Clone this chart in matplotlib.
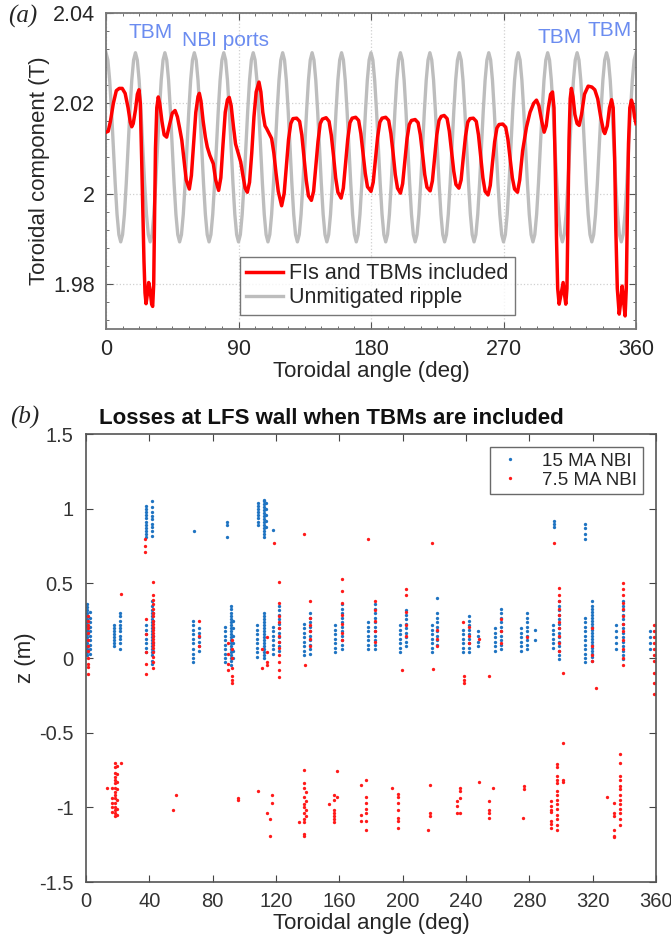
import numpy as np
import matplotlib
matplotlib.use("Agg")
import matplotlib.pyplot as plt
from matplotlib.ticker import MultipleLocator, FixedLocator

plt.rcParams['font.family'] = ['Liberation Sans', 'DejaVu Sans']

# ---- panel (a): toroidal field along the toroidal angle ----
# unmitigated ripple, sampled every 1.25 deg (18 coils -> one period per 20 deg)
ripple_deg = np.linspace(0, 360, 289)
ripple_b = [
    2.0312, 2.0296, 2.0251, 2.0183, 2.0103, 2.0022, 1.9954, 1.9909, 1.9893, 1.9909, 1.9954, 2.0022, 2.0103, 2.0183, 2.0251, 2.0296,
    2.0312, 2.0296, 2.0251, 2.0183, 2.0103, 2.0022, 1.9954, 1.9909, 1.9893, 1.9909, 1.9954, 2.0022, 2.0103, 2.0183, 2.0251, 2.0296,
    2.0312, 2.0296, 2.0251, 2.0183, 2.0103, 2.0022, 1.9954, 1.9909, 1.9893, 1.9909, 1.9954, 2.0022, 2.0103, 2.0183, 2.0251, 2.0296,
    2.0312, 2.0296, 2.0251, 2.0183, 2.0103, 2.0022, 1.9954, 1.9909, 1.9893, 1.9909, 1.9954, 2.0022, 2.0103, 2.0183, 2.0251, 2.0296,
    2.0312, 2.0296, 2.0251, 2.0183, 2.0103, 2.0022, 1.9954, 1.9909, 1.9893, 1.9909, 1.9954, 2.0022, 2.0103, 2.0183, 2.0251, 2.0296,
    2.0312, 2.0296, 2.0251, 2.0183, 2.0103, 2.0022, 1.9954, 1.9909, 1.9893, 1.9909, 1.9954, 2.0022, 2.0103, 2.0183, 2.0251, 2.0296,
    2.0312, 2.0296, 2.0251, 2.0183, 2.0103, 2.0022, 1.9954, 1.9909, 1.9893, 1.9909, 1.9954, 2.0022, 2.0103, 2.0183, 2.0251, 2.0296,
    2.0312, 2.0296, 2.0251, 2.0183, 2.0103, 2.0022, 1.9954, 1.9909, 1.9893, 1.9909, 1.9954, 2.0022, 2.0103, 2.0183, 2.0251, 2.0296,
    2.0312, 2.0296, 2.0251, 2.0183, 2.0103, 2.0022, 1.9954, 1.9909, 1.9893, 1.9909, 1.9954, 2.0022, 2.0103, 2.0183, 2.0251, 2.0296,
    2.0312, 2.0296, 2.0251, 2.0183, 2.0103, 2.0022, 1.9954, 1.9909, 1.9893, 1.9909, 1.9954, 2.0022, 2.0103, 2.0183, 2.0251, 2.0296,
    2.0312, 2.0296, 2.0251, 2.0183, 2.0103, 2.0022, 1.9954, 1.9909, 1.9893, 1.9909, 1.9954, 2.0022, 2.0103, 2.0183, 2.0251, 2.0296,
    2.0312, 2.0296, 2.0251, 2.0183, 2.0103, 2.0022, 1.9954, 1.9909, 1.9893, 1.9909, 1.9954, 2.0022, 2.0103, 2.0183, 2.0251, 2.0296,
    2.0312, 2.0296, 2.0251, 2.0183, 2.0103, 2.0022, 1.9954, 1.9909, 1.9893, 1.9909, 1.9954, 2.0022, 2.0103, 2.0183, 2.0251, 2.0296,
    2.0312, 2.0296, 2.0251, 2.0183, 2.0103, 2.0022, 1.9954, 1.9909, 1.9893, 1.9909, 1.9954, 2.0022, 2.0103, 2.0183, 2.0251, 2.0296,
    2.0312, 2.0296, 2.0251, 2.0183, 2.0103, 2.0022, 1.9954, 1.9909, 1.9893, 1.9909, 1.9954, 2.0022, 2.0103, 2.0183, 2.0251, 2.0296,
    2.0312, 2.0296, 2.0251, 2.0183, 2.0103, 2.0022, 1.9954, 1.9909, 1.9893, 1.9909, 1.9954, 2.0022, 2.0103, 2.0183, 2.0251, 2.0296,
    2.0312, 2.0296, 2.0251, 2.0183, 2.0103, 2.0022, 1.9954, 1.9909, 1.9893, 1.9909, 1.9954, 2.0022, 2.0103, 2.0183, 2.0251, 2.0296,
    2.0312, 2.0296, 2.0251, 2.0183, 2.0103, 2.0022, 1.9954, 1.9909, 1.9893, 1.9909, 1.9954, 2.0022, 2.0103, 2.0183, 2.0251, 2.0296,
    2.0312,
]

# with ferritic inserts and TBMs ((deg, T))
mitig = [
    (0, 2.0136), (1.5, 2.0138), (3, 2.0160), (5, 2.0200), (7, 2.0228), (9, 2.0233), (11, 2.0233),
    (13, 2.0222), (15, 2.0190), (16.5, 2.0158), (17.5, 2.0148), (18.5, 2.0155), (20, 2.0185),
    (21.3, 2.0220), (22.4, 2.0230), (23.3, 2.0200), (24.2, 2.0080), (25.0, 1.9960), (25.8, 1.9850),
    (26.5, 1.9780), (27.2, 1.9756), (28.0, 1.9775), (29.0, 1.9803), (30.0, 1.9785), (31.0, 1.9755),
    (31.7, 1.9750), (32.4, 1.9800), (33.0, 1.9950), (33.6, 2.0100), (34.5, 2.0190), (35.5, 2.0214),
    (36.5, 2.0200), (38, 2.0160), (39.5, 2.0130), (41.2, 2.0125), (43, 2.0150), (45, 2.0178),
    (46.9, 2.0184), (48.5, 2.0170), (50, 2.0145), (51.5, 2.0118), (53, 2.0075), (54.5, 2.0030),
    (56.6, 2.0010), (58, 2.0040), (59.5, 2.0110), (61, 2.0180), (62.5, 2.0215), (63.4, 2.0222),
    (64.5, 2.0205), (66, 2.0160), (67.5, 2.0125), (68.8, 2.0103), (70.5, 2.0085), (72.9, 2.0066),
    (74.5, 2.0030), (76.5, 2.0007), (78, 2.0035), (79.5, 2.0110), (81, 2.0180), (82.5, 2.0208),
    (83.7, 2.0213), (85, 2.0195), (86.5, 2.0150), (88, 2.0110), (89.9, 2.0088), (91.5, 2.0070),
    (93, 2.0040), (94.5, 2.0012), (96, 2.0003), (97.5, 2.0025), (99, 2.0090), (100.5, 2.0170),
    (102, 2.0225), (103.9, 2.0247), (105.2, 2.0225), (106.5, 2.0180), (108, 2.0150), (109.1, 2.0144),
    (110.5, 2.0135), (112.5, 2.0122), (114, 2.0090), (115.5, 2.0045), (117, 2.0005), (119.3, 1.9973),
    (121, 2.0000), (122.5, 2.0060), (124, 2.0120), (125.5, 2.0155), (127, 2.0166), (129.5, 2.0167),
    (131.5, 2.0160), (133, 2.0130), (134.5, 2.0080), (136, 2.0030), (137.5, 1.9995), (139.5, 1.9985),
    (141, 2.0005), (142.5, 2.0060), (144, 2.0115), (145.5, 2.0155), (147, 2.0165), (149.5, 2.0168),
    (151.5, 2.0160), (153, 2.0130), (154.5, 2.0085), (156, 2.0035), (157.5, 2.0003), (159.7, 1.9990),
    (161.2, 2.0012), (162.7, 2.0065), (164.2, 2.0120), (165.7, 2.0157), (167.2, 2.0167), (169.6, 2.0169),
    (171.6, 2.0162), (173.1, 2.0133), (174.6, 2.0090), (176.1, 2.0045), (177.6, 2.0015), (180, 2.0005),
    (181.5, 2.0025), (183, 2.0075), (184.5, 2.0125), (186, 2.0158), (187.5, 2.0167), (190, 2.0169),
    (192, 2.0162), (193.5, 2.0133), (195, 2.0090), (196.5, 2.0042), (198, 2.0012), (200, 2.0001),
    (201.5, 2.0022), (203, 2.0072), (204.5, 2.0122), (206, 2.0153), (207.5, 2.0162), (210, 2.0164),
    (212, 2.0157), (213.5, 2.0130), (215, 2.0088), (216.5, 2.0042), (218, 2.0014), (220.2, 2.0006),
    (221.7, 2.0028), (223.2, 2.0080), (224.7, 2.0130), (226.2, 2.0162), (227.7, 2.0171), (229.7, 2.0173),
    (231.7, 2.0166), (233.2, 2.0138), (234.7, 2.0095), (236.2, 2.0050), (237.7, 2.0020), (239.7, 2.0012),
    (241.2, 2.0030), (242.7, 2.0080), (244.2, 2.0127), (245.7, 2.0158), (247.2, 2.0166), (249.5, 2.0167),
    (251.5, 2.0160), (253, 2.0130), (254.5, 2.0082), (256, 2.0035), (257.5, 2.0005), (259.5, 1.9997),
    (261, 2.0018), (262.5, 2.0068), (264, 2.0115), (265.5, 2.0145), (267, 2.0153), (269.5, 2.0154),
    (271.5, 2.0147), (273, 2.0120), (274.5, 2.0078), (276, 2.0035), (277.5, 2.0010), (279.5, 2.0003),
    (281, 2.0030), (283, 2.0095), (285.6, 2.0147), (288, 2.0180), (290.5, 2.0200), (292.4, 2.0207),
    (294, 2.0195), (296, 2.0160), (297.6, 2.0136), (299, 2.0150), (300.5, 2.0190), (302, 2.0220),
    (303.3, 2.0225), (304.3, 2.0190), (305.2, 2.0050), (306, 1.9900), (306.8, 1.9790), (307.8, 1.9755),
    (309, 1.9775), (310.5, 1.9803), (311.5, 1.9775), (312.3, 1.9755), (313.1, 1.9790), (313.8, 1.9950),
    (314.5, 2.0120), (315.3, 2.0210), (316.1, 2.0233), (317.2, 2.0215), (318.5, 2.0175), (320, 2.0155),
    (321.4, 2.0151), (323, 2.0175), (325, 2.0220), (327.5, 2.0238), (330, 2.0236), (332, 2.0230),
    (334, 2.0210), (336, 2.0170), (338, 2.0138), (338.8, 2.0133), (340.5, 2.0150), (342, 2.0190),
    (343.4, 2.0208), (344.5, 2.0190), (345.5, 2.0080), (346.3, 1.9920), (347.3, 1.9790), (348.6, 1.9733),
    (349.6, 1.9760), (350.6, 1.9795), (351.6, 1.9760), (352.6, 1.9729), (353.4, 1.9790), (354.1, 1.9950),
    (354.9, 2.0110), (355.8, 2.0190), (356.9, 2.0207), (358, 2.0195), (359, 2.0170), (360, 2.0155),
]

# labels above the ports: (text, deg, T)
port_labels = [("TBM", 30, 2.0356), ("NBI ports", 81.5, 2.0340),
               ("TBM", 308, 2.0345), ("TBM", 342, 2.0362)]

# ---- panel (b): loss points on the LFS wall, columns of (deg, [z ...]) ----
blue_upper = [
    (37.8, [1.02, 1.00, 0.98, 0.96, 0.94, 0.91, 0.89, 0.87, 0.85, 0.83, 0.81]),
    (41.8, [1.05, 1.01, 0.98, 0.95, 0.93, 0.90, 0.88, 0.85, 0.82]),
    (68.0, [0.85]),
    (89.3, [0.91, 0.89, 0.81]),
    (108.9, [1.04, 1.02, 1.00, 0.98, 0.96, 0.94, 0.91, 0.89]),
    (112.6, [1.06, 1.05, 1.03, 1.01, 0.99, 0.97, 0.95, 0.93, 0.91, 0.89, 0.87, 0.85, 0.83, 0.81]),
    (113.8, [1.04, 1.00, 0.96, 0.92, 0.88]),
    (118.3, [0.86]),
    (295.3, [0.92, 0.90, 0.88]),
    (315.1, [0.90, 0.87, 0.83, 0.80]),
]
blue_mid = [
    (0.8, [0.36, 0.34, 0.32, 0.30, 0.28, 0.26, 0.24, 0.22, 0.21, 0.19, 0.18, 0.16, 0.14, 0.12, 0.10, 0.08, 0.06, 0.04, 0.02]),
    (2.3, [0.31, 0.27, 0.24, 0.21, 0.18, 0.15, 0.12, 0.09, 0.06, 0.03]),
    (17.6, [0.22, 0.20, 0.18, 0.16, 0.14, 0.12, 0.10, 0.08]),
    (21.6, [0.30, 0.28, 0.25, 0.22, 0.20, 0.18, 0.15, 0.13, 0.10, 0.06]),
    (37.8, [0.22, 0.19, 0.16, 0.13, 0.10, 0.07, 0.04]),
    (41.5, [0.38, 0.35, 0.32, 0.30, 0.28, 0.26, 0.24, 0.22, 0.20, 0.18, 0.16, 0.14, 0.12, 0.10, 0.08, 0.06, 0.04, 0.02, -0.02, -0.04]),
    (42.6, [0.30, 0.25, 0.20, 0.15, 0.10, 0.05]),
    (67.8, [0.25, 0.22, 0.19, 0.16, 0.13, 0.10, 0.06, 0.03, 0.0, -0.03]),
    (71.4, [0.20, 0.17, 0.14, 0.11, 0.08, 0.05]),
    (87.8, [0.21, 0.18, 0.15, 0.12, 0.09, 0.06, 0.03, 0.0, -0.03]),
    (91.8, [0.35, 0.33, 0.30, 0.28, 0.26, 0.24, 0.22, 0.20, 0.18, 0.16, 0.14, 0.12, 0.10, 0.08, 0.06, 0.04, 0.02, 0.0, -0.02, -0.05]),
    (93.0, [0.25, 0.20, 0.15, 0.10, 0.05, 0.0]),
    (108.3, [0.22, 0.19, 0.16, 0.13, 0.10, 0.07, 0.04, 0.01]),
    (112.5, [0.30, 0.28, 0.26, 0.24, 0.22, 0.20, 0.18, 0.16, 0.14, 0.12, 0.10, 0.08, 0.06, 0.04, 0.02, 0.0]),
    (118.3, [0.21, 0.18, 0.15, 0.12, 0.09, 0.06, 0.03]),
    (122.1, [0.35, 0.32, 0.29, 0.26, 0.23, 0.20, 0.17, 0.14, 0.11, 0.08, 0.05]),
    (137.9, [0.23, 0.20, 0.17, 0.14, 0.11, 0.08, 0.05, 0.02]),
    (141.2, [0.30, 0.27, 0.24, 0.21, 0.18, 0.15, 0.12, 0.09, 0.06, 0.03]),
    (157.3, [0.22, 0.19, 0.16, 0.13, 0.10, 0.07, 0.04]),
    (161.5, [0.36, 0.33, 0.30, 0.27, 0.24, 0.21, 0.18, 0.15, 0.12, 0.09, 0.06]),
    (178.2, [0.24, 0.21, 0.18, 0.15, 0.12, 0.09, 0.06]),
    (182.3, [0.36, 0.33, 0.30, 0.27, 0.24, 0.21, 0.18, 0.15, 0.12, 0.09, 0.06]),
    (198.3, [0.22, 0.19, 0.16, 0.13, 0.10, 0.07, 0.04]),
    (201.9, [0.32, 0.29, 0.26, 0.23, 0.20, 0.17, 0.14, 0.11, 0.08]),
    (218.3, [0.22, 0.19, 0.16, 0.13, 0.10, 0.07, 0.04]),
    (221.5, [0.40, 0.30, 0.27, 0.24, 0.21, 0.18, 0.15, 0.12, 0.09]),
    (237.9, [0.19, 0.16, 0.13, 0.10, 0.07, 0.04]),
    (242.1, [0.28, 0.25, 0.22, 0.19, 0.16, 0.13, 0.10, 0.07, 0.04]),
    (247.4, [0.18, 0.15, 0.11, 0.08]),
    (258.3, [0.20, 0.17, 0.14, 0.11, 0.08, 0.05]),
    (261.9, [0.33, 0.30, 0.27, 0.24, 0.21, 0.18, 0.15, 0.12, 0.09, 0.06]),
    (274.7, [0.20, 0.17, 0.14, 0.11, 0.08, 0.05]),
    (278.5, [0.30, 0.27, 0.24, 0.21, 0.18, 0.15, 0.12, 0.09, 0.06]),
    (283.8, [0.19, 0.12]),
    (295.0, [0.22, 0.19, 0.16, 0.13, 0.10, 0.07]),
    (298.9, [0.38, 0.35, 0.32, 0.29, 0.26, 0.23, 0.20, 0.17, 0.14, 0.11, 0.08, 0.05, 0.02, -0.01]),
    (315.1, [0.27, 0.24, 0.21, 0.18, 0.15, 0.12, 0.09, 0.06, 0.03, 0.0, -0.03]),
    (319.3, [0.38, 0.35, 0.33, 0.31, 0.29, 0.27, 0.25, 0.23, 0.21, 0.19, 0.17, 0.15, 0.13, 0.11, 0.09, 0.07, 0.05, 0.03, 0.01, -0.02]),
    (334.5, [0.22, 0.18, 0.14, 0.10, 0.06]),
    (339.2, [0.38, 0.35, 0.32, 0.29, 0.26, 0.23, 0.20, 0.17, 0.14, 0.11, 0.08, 0.05, 0.02, -0.01]),
    (356.5, [0.18, 0.14, 0.10, 0.06]),
]
red_upper = [
    (1.5, [0.28, 0.25, 0.22, 0.20, 0.17, 0.12, 0.08, 0.05, 0.0, -0.04, -0.06, -0.11]),
    (21.9, [0.43]),
    (37.5, [0.80, 0.75, 0.71]),
    (37.8, [0.26, 0.16, 0.04, -0.04, -0.11]),
    (42.0, [0.51, 0.42, 0.39, 0.36, 0.33, 0.30, 0.28, 0.25, 0.23, 0.21, 0.19, 0.17, 0.15, 0.13, 0.11, 0.09, 0.07, 0.04, 0.01, -0.03, -0.07]),
    (71.5, [0.25, 0.15, 0.08]),
    (89.8, [0.10, 0.03, -0.04, -0.08]),
    (92.5, [0.12, 0.06, 0.0, -0.07, -0.12, -0.15, -0.17]),
    (111.0, [0.06, -0.07]),
    (114.0, [0.14, 0.04, -0.03, -0.05]),
    (118.5, [0.77]),
    (121.6, [0.51, 0.37, 0.28, 0.24, 0.20, 0.15, 0.11, 0.07, 0.02, -0.03, -0.08, -0.13]),
    (137.9, [0.83]),
    (138.5, [-0.05]),
    (141.4, [0.38, 0.27, 0.22, 0.18, 0.13, 0.08]),
    (161.5, [0.53, 0.45, 0.37, 0.29, 0.23, 0.17, 0.12]),
    (178.1, [0.80]),
    (182.5, [0.38, 0.32, 0.25, 0.18, 0.11]),
    (199.3, [-0.08]),
    (201.9, [0.46, 0.42, 0.31, 0.22, 0.15]),
    (218.3, [0.77]),
    (219.0, [-0.075]),
    (221.5, [0.19, 0.13, 0.08]),
    (237.9, [0.24]),
    (239.0, [-0.12, -0.15, -0.17]),
    (242.1, [0.21, 0.15, 0.10]),
    (247.9, [0.13]),
    (254.6, [-0.12]),
    (261.9, [0.26, 0.18, 0.10]),
    (278.5, [0.14]),
    (295.3, [0.77]),
    (298.9, [0.47, 0.42, 0.38, 0.33, 0.29, 0.24, 0.20, 0.15, 0.10, 0.05]),
    (301.0, [-0.10]),
    (319.3, [0.20, 0.08, 0.02, -0.02]),
    (322.0, [-0.20]),
    (339.2, [0.50, 0.46, 0.42, 0.37, 0.33, 0.28, 0.23, 0.18, 0.12, 0.06, 0.0, -0.05]),
    (358.5, [0.22, 0.18, 0.14, 0.10, 0.06, 0.02, -0.02, -0.10, -0.17, -0.24]),
]
red_lower = [
    (13.5, [-0.87]),
    (16.5, [-0.87, -0.94, -0.97, -1.0, -1.03]),
    (18.5, [-0.70, -0.73, -0.77, -0.80, -0.82, -0.84, -0.87, -0.90, -0.92, -0.94, -0.97, -1.0, -1.02, -1.04, -1.06]),
    (19.8, [-0.72, -0.78, -0.83, -0.88, -0.95, -1.01, -1.05]),
    (22.4, [-0.70]),
    (54.8, [-1.02]),
    (56.7, [-0.92]),
    (96.1, [-0.94, -0.95]),
    (108.8, [-0.89]),
    (114.2, [-1.04]),
    (116.4, [-1.08, -1.19]),
    (117.7, [-0.92, -0.97]),
    (134.5, [-1.10]),
    (137.5, [-0.75, -0.84, -0.87, -0.93, -0.98, -1.00, -1.04, -1.08, -1.10, -1.18, -1.19]),
    (139.0, [-0.90, -0.96, -1.02, -1.06]),
    (153.4, [-0.98]),
    (156.5, [-0.92, -0.95, -1.02, -1.04, -1.06, -1.08, -1.10]),
    (158.8, [-0.76, -0.93]),
    (173.6, [-0.85, -1.05, -1.09]),
    (176.8, [-0.82, -0.93, -0.97, -1.01, -1.04, -1.09, -1.15]),
    (193.0, [-0.87]),
    (197.3, [-0.91, -0.93, -0.97, -1.02, -1.07, -1.09, -1.14]),
    (216.0, [-1.15]),
    (217.5, [-0.85, -1.04, -1.06]),
    (234.0, [-0.96, -0.99, -1.04]),
    (236.5, [-0.87, -0.89, -0.94, -1.04]),
    (247.9, [-0.83]),
    (254.5, [-0.96, -1.02, -1.04, -1.07]),
    (256.8, [-0.87]),
    (275.7, [-1.07]),
    (276.8, [-0.86, -0.88]),
    (293.5, [-0.96, -0.99, -1.02, -1.03, -1.09, -1.11, -1.14]),
    (297.5, [-0.71, -0.73, -0.79, -0.82, -0.84, -0.89, -0.92, -0.95, -0.98, -1.01, -1.05, -1.08, -1.12, -1.15]),
    (301.2, [-0.57, -0.82, -0.83]),
    (328.9, [-0.93]),
    (333.4, [-0.97, -1.04, -1.06, -1.15, -1.19, -1.20]),
    (337.0, [-0.64, -0.70, -0.79, -0.82, -0.86, -0.88, -0.92, -0.95, -0.98, -1.01, -1.04, -1.08, -1.12]),
]


def flatten(cols):
    xs, zs = [], []
    for deg, zlist in cols:
        xs += [deg] * len(zlist)
        zs += zlist
    return xs, zs


W, H = 671, 941
fig = plt.figure(figsize=(W / 100, H / 100), dpi=100)

TXT = '#262626'
LBLUE = '#6b8cf0'
MBLUE = '#1f74c2'

# ---------- (a) ----------
ax1 = fig.add_axes([106 / W, 1 - 329 / H, 530 / W, 316 / H])
ax1.plot(ripple_deg, ripple_b, color='#bdbdbd', lw=2.4, label='Unmitigated ripple', zorder=2)
mx = [p[0] for p in mitig]
my = [p[1] for p in mitig]
ax1.plot(mx, my, color='#ff0000', lw=2.5, label='FIs and TBMs included', zorder=3)

ax1.set_xlim(0, 360)
ax1.set_ylim(1.97, 2.04)
ax1.set_xticks([0, 90, 180, 270, 360])
ax1.set_yticks([1.98, 2.0, 2.02, 2.04])
ax1.set_yticklabels(['1.98', '2', '2.02', '2.04'])
ax1.xaxis.set_minor_locator(MultipleLocator(11.25))
ax1.yaxis.set_minor_locator(MultipleLocator(0.004))
ax1.tick_params(which='both', direction='in', top=True, right=True, color='#555555')
ax1.tick_params(which='major', length=5, labelsize=15.5, labelcolor=TXT)
ax1.tick_params(axis='x', which='major', pad=7)
ax1.tick_params(axis='y', which='major', pad=8)
ax1.tick_params(which='minor', length=2.5)
ax1.grid(True, which='major', color='#d0d0d0', linestyle=':', lw=0.9)
for s in ax1.spines.values():
    s.set_color('#777777')
    s.set_linewidth(1.3)
ax1.set_xlabel('Toroidal angle (deg)', fontsize=16, color=TXT, labelpad=1)
ax1.set_ylabel('Toroidal component (T)', fontsize=16, color=TXT, labelpad=2)

for txt, xd, yv in port_labels:
    ax1.text(xd, yv, txt, color=LBLUE, fontsize=15, ha='center', va='center')

h, l = ax1.get_legend_handles_labels()
leg1 = ax1.legend(h[::-1], l[::-1], loc='lower left', bbox_to_anchor=(0.252, 0.045),
                  fontsize=15.5, frameon=True, fancybox=False, handlelength=1.7,
                  handletextpad=0.3, borderpad=0.3, labelspacing=0.15, borderaxespad=0)
leg1.get_frame().set_edgecolor('#555555')
leg1.get_frame().set_linewidth(1.0)
for t in leg1.get_texts():
    t.set_color(TXT)

fig.text(8 / W, 1 - 16 / H, '(a)', fontsize=18, style='italic', family='Liberation Serif',
         ha='left', va='center', color=TXT)

# ---------- (b) ----------
ax2 = fig.add_axes([86 / W, 1 - 882 / H, 570 / W, 448 / H])
bx1, bz1 = flatten(blue_upper)
bx2, bz2 = flatten(blue_mid)
rx1, rz1 = flatten(red_upper)
rx2, rz2 = flatten(red_lower)
ax2.plot(bx1 + bx2, bz1 + bz2, linestyle='none', marker='o', ms=2.4, mew=0,
         color=MBLUE, label='15 MA NBI')
ax2.plot(rx1 + rx2, rz1 + rz2, linestyle='none', marker='o', ms=2.4, mew=0,
         color='#ff1a1a', label='7.5 MA NBI')

ax2.set_xlim(0, 360)
ax2.set_ylim(-1.5, 1.5)
ax2.xaxis.set_major_locator(FixedLocator(list(range(0, 361, 40))))
yt = [-1.5, -1, -0.5, 0, 0.5, 1, 1.5]
ax2.set_yticks(yt)
ax2.set_yticklabels(['-1.5', '-1', '-0.5', '0', '0.5', '1', '1.5'])
ax2.tick_params(direction='in', top=True, right=True, length=5, color='#444444',
                labelsize=14.5, labelcolor='#333333')
ax2.tick_params(axis='x', pad=7)
ax2.tick_params(axis='y', pad=9)
for s in ax2.spines.values():
    s.set_color('#555555')
    s.set_linewidth(1.2)
ax2.set_xlabel('Toroidal angle (deg)', fontsize=16, color=TXT, labelpad=2)
ax2.set_ylabel('z (m)', fontsize=16, color=TXT, labelpad=2)
fig.text(331 / W, 1 - 418 / H, 'Losses at LFS wall when TBMs are included', fontsize=16,
         fontweight='bold', color='#111111', ha='center', va='center')

leg2 = ax2.legend(loc='upper right', bbox_to_anchor=(0.977, 0.971), fontsize=13.5,
                  frameon=True, fancybox=False, markerscale=1.0, handlelength=1.6,
                  handletextpad=0.9, borderpad=0.3, labelspacing=0.1, borderaxespad=0)
leg2.get_frame().set_edgecolor('#444444')
leg2.get_frame().set_linewidth(1.0)
for t in leg2.get_texts():
    t.set_color(TXT)

fig.text(10 / W, 1 - 417 / H, '(b)', fontsize=18, style='italic', family='Liberation Serif',
         ha='left', va='center', color=TXT)

fig.savefig('out.png', dpi=100)
